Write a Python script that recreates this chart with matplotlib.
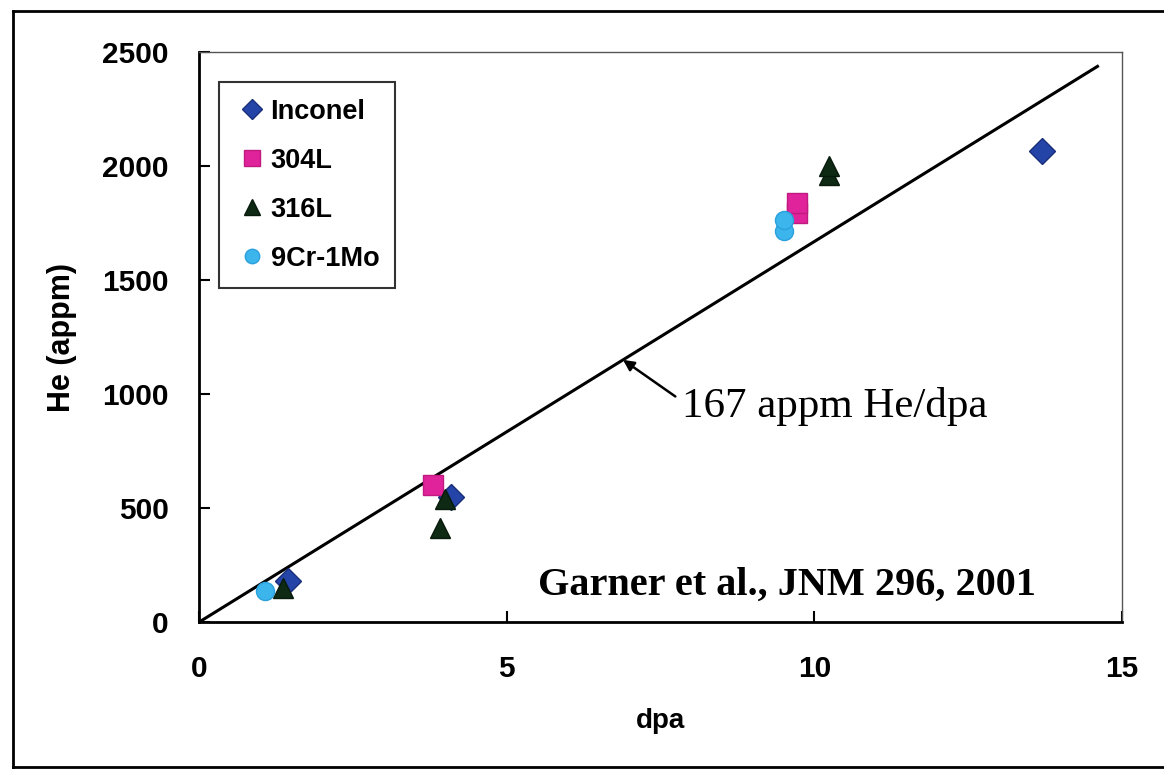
import matplotlib.pyplot as plt
from matplotlib.lines import Line2D

# data (dpa, He appm)
inconel_dpa = [1.45, 4.1, 13.7]
inconel_he = [180, 548, 2068]
l304_dpa = [3.8, 9.72, 9.72]
l304_he = [600, 1795, 1840]
l316_dpa = [1.37, 3.92, 4.0, 10.24, 10.24]
l316_he = [150, 412, 540, 1960, 2000]
cr9_dpa = [1.07, 9.51, 9.51]
cr9_he = [136, 1715, 1765]

rate = 167  # appm He/dpa
line_end = 14.6

plt.rcParams['font.family'] = ['Liberation Sans', 'DejaVu Sans']
serif = ['Liberation Serif', 'DejaVu Serif']

fig = plt.figure(figsize=(11.64, 7.69), dpi=100)
ax = fig.add_axes([0.171, 0.191, 0.793, 0.741])

# outer frame of the scanned page
fig.add_artist(Line2D([0.011, 0.011], [0.003, 0.986], color='black', lw=2, transform=fig.transFigure))
fig.add_artist(Line2D([0.011, 1.0], [0.986, 0.986], color='black', lw=2, transform=fig.transFigure))
fig.add_artist(Line2D([0.011, 1.0], [0.003, 0.003], color='black', lw=2, transform=fig.transFigure))

ax.plot([0, line_end], [0, rate * line_end], color='black', lw=2.2, zorder=2)

ax.plot(inconel_dpa, inconel_he, 'D', color='#2444a8', mec='#1a2f7a', ms=13, label='Inconel', zorder=3)
ax.plot(l304_dpa, l304_he, 's', color='#e0239a', mec='#c01a80', ms=14, label='304L', zorder=3)
ax.plot(l316_dpa, l316_he, '^', color='#0e2a14', mec='#081a0c', ms=15, label='316L', zorder=3)
ax.plot(cr9_dpa, cr9_he, 'o', color='#3cb4ec', mec='#2aa0dc', ms=13, label='9Cr-1Mo', zorder=3)

ax.set_xlim(0, 15)
ax.set_ylim(0, 2500)
ax.set_xticks([0, 5, 10, 15])
ax.set_yticks([0, 500, 1000, 1500, 2000, 2500])
ax.tick_params(direction='in', length=8, width=1.5, labelsize=21.5)
ax.tick_params(axis='x', pad=24)
ax.tick_params(axis='y', pad=22)
for lab in ax.get_xticklabels() + ax.get_yticklabels():
    lab.set_fontweight('bold')

for s in ['left', 'bottom']:
    ax.spines[s].set_linewidth(2)
for s in ['top', 'right']:
    ax.spines[s].set_linewidth(1)
    ax.spines[s].set_color('#555555')

ax.set_xlabel('dpa', fontsize=20, fontweight='bold', labelpad=18)
ax.set_ylabel('He (appm)', fontsize=22, fontweight='bold', labelpad=18)

leg = ax.legend(loc='upper left', bbox_to_anchor=(0.0217, 0.947), borderaxespad=0,
                prop={'size': 19.5, 'weight': 'bold'}, frameon=True, fancybox=False,
                edgecolor='black', handletextpad=0.1, handlelength=1.2,
                labelspacing=0.85, borderpad=0.6, markerscale=0.8)
leg.get_frame().set_linewidth(1.5)

ax.annotate('', xy=(6.89, rate * 6.89), xytext=(7.74, 990),
            arrowprops=dict(arrowstyle='-|>', color='black', lw=1.8, mutation_scale=16,
                            shrinkA=0, shrinkB=0))
ax.text(7.85, 945, '167 appm He/dpa', fontsize=31, family=serif, ha='left', va='center')

ax.text(13.6, 162, 'Garner et al., JNM 296, 2001', fontsize=29, fontweight='bold',
        family=serif, ha='right', va='center')

fig.savefig('out.png', dpi=100)
